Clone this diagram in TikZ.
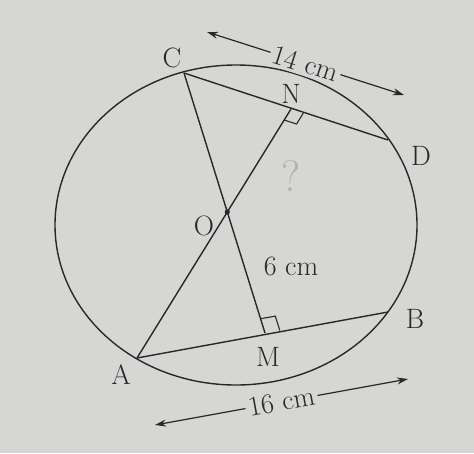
\documentclass[tikz,border=0pt]{standalone}
\usetikzlibrary{calc,arrows.meta}
\definecolor{bg}{RGB}{214,214,212}
\definecolor{ink}{RGB}{40,40,40}
\definecolor{faint}{RGB}{175,175,173}
\begin{document}
\begin{tikzpicture}[x=1pt,y=-1pt,
  geo/.style={draw=ink,line width=1.4pt},
  lbl/.style={text=ink,font=\fontsize{28}{32}\selectfont,inner sep=0pt},
  dimtext/.style={text=ink,font=\fontsize{28}{32}\selectfont,fill=bg,inner sep=3pt,sloped},
  dimarrow/.style={draw=ink,line width=1.2pt,{Stealth[length=11pt,width=7pt]}-{Stealth[length=11pt,width=7pt]}}]
\fill[bg] (0,0) rectangle (474,453);
\useasboundingbox (0,0) rectangle (474,453);
% points
\coordinate (C) at (184,73);
\coordinate (D) at (388,140);
\coordinate (A) at (137,358);
\coordinate (B) at (388,312);
\coordinate (N) at (291,109);
\coordinate (M) at (265,333);
\coordinate (O) at (intersection of A--N and C--M);
% circle
\draw[geo] (236,225) ellipse [x radius=181pt, y radius=160pt];
% chords and lines
\draw[geo] (C) -- (D);
\draw[geo] (A) -- (B);
\draw[geo] (C) -- (M);
\draw[geo] (A) -- (N);
\fill[ink] (O) circle (2.6pt);
% right angle at N
\coordinate (n1) at ($(N)!13pt!(D)$);
\coordinate (n2) at ($(N)!13pt!(O)$);
\draw[draw=ink,line width=1.1pt] (n1) -- ($(n1)+(n2)-(N)$) -- (n2);
% right angle at M
\coordinate (m1) at ($(M)!15pt!(B)$);
\coordinate (m2) at ($(M)!15pt!(O)$);
\draw[draw=ink,line width=1.1pt] (m1) -- ($(m1)+(m2)-(M)$) -- (m2);
% labels
\node[lbl] (lC) at (172,58) {C};
\node[lbl] (lN) at (291,94) {N};
\node[lbl] (lD) at (421,156) {D};
\node[lbl] (lO) at (204,226) {O};
\node[lbl] (l6) at (291,266) {6 cm};
\node[lbl] (lB) at (415,319) {B};
\node[lbl] (lM) at (268,357) {M};
\node[lbl] (lA) at (121,375) {A};
\node[text=faint,font=\fontsize{44}{48}\selectfont,inner sep=0pt] (q) at (291,176) {?};
% dimension arrows
\coordinate (t1) at (207,32);
\coordinate (t2) at (404,95);
\draw[dimarrow] (t1) -- node[dimtext] (d14) {14 cm} (t2);
\coordinate (t3) at (155,425);
\coordinate (t4) at (408,379);
\draw[dimarrow] (t3) -- node[dimtext] (d16) {16 cm} (t4);
\end{tikzpicture}
\end{document}
